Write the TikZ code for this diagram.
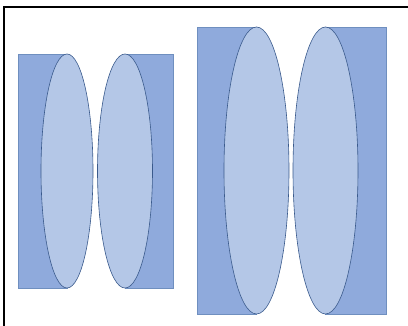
\documentclass[tikz,border=0pt]{standalone}
\definecolor{rectblue}{HTML}{8FAADC}
\definecolor{lensblue}{HTML}{B4C7E7}
\definecolor{lensline}{HTML}{3A5A8C}
\definecolor{rectline}{HTML}{6F8FBF}
\tikzset{
  plate/.style={fill=rectblue, draw=rectline, line width=0.6pt},
  lens/.style={fill=lensblue, draw=lensline, line width=0.6pt},
  frameline/.style={draw=black, line width=1.8pt}
}
\begin{document}
\begin{tikzpicture}[x=1pt,y=-1pt]
\useasboundingbox (0,0) rectangle (408,326);
\fill[white] (0,0) rectangle (408,326);
\draw[frameline] (4,326) -- (4,7) -- (408,7);
% left group
\draw[plate] (18,54) rectangle (67,288);
\draw[plate] (125,54) rectangle (173,288);
\draw[lens] (67,171) ellipse [x radius=26, y radius=117];
\draw[lens] (125,171) ellipse [x radius=27.5, y radius=117];
% right group
\draw[plate] (197,27) rectangle (256.5,314);
\draw[plate] (325.5,27) rectangle (386,314);
\draw[lens] (256.5,170.5) ellipse [x radius=32.5, y radius=143.5];
\draw[lens] (325.5,170.5) ellipse [x radius=32.5, y radius=143.5];
\end{tikzpicture}
\end{document}
